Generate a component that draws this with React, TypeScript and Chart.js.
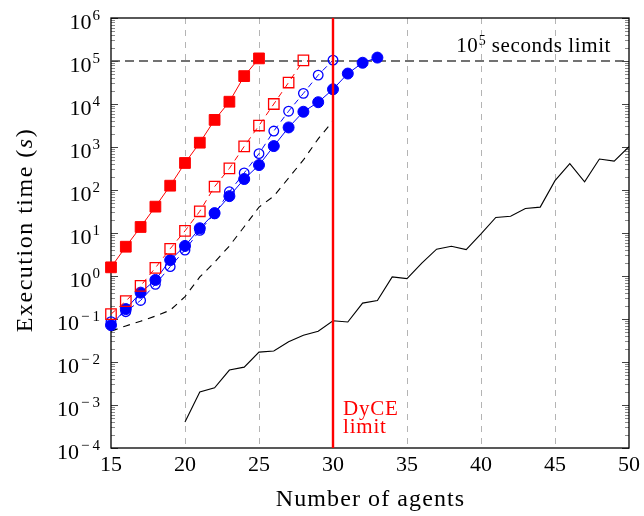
import React, { useEffect, useRef } from "react";
import { Chart, registerables } from "chart.js";

Chart.register(...registerables);

const SERIF = '"Liberation Serif", "DejaVu Serif", serif';

// Axis ticks
const xTickValues = [15, 20, 25, 30, 35, 40, 45, 50];
const yTickExponents = [-4, -3, -2, -1, 0, 1, 2, 3, 4, 5, 6];

// Red, filled squares (solid line)
const redFilledAgents = [15, 16, 17, 18, 19, 20, 21, 22, 23, 24, 25];
const redFilledTimes = [1.59, 4.8, 13.8, 41, 126, 425, 1260, 4270, 11300, 44500, 115000];

// Red, open squares (dashed line)
const redOpenAgents = [15, 16, 17, 18, 19, 20, 21, 22, 23, 24, 25, 26, 27, 28];
const redOpenTimes = [0.13, 0.26, 0.59, 1.55, 4.3, 11.2, 32, 120, 318, 1030, 3160, 10000, 31600, 103000];

// Blue, filled circles (solid line)
const blueFilledAgents = [15, 16, 17, 18, 19, 20, 21, 22, 23, 24, 25, 26, 27, 28, 29, 30, 31, 32, 33];
const blueFilledTimes = [0.072, 0.17, 0.41, 0.81, 2.35, 5.0, 12.9, 29, 72, 180, 380, 1050, 2850, 6600, 11000, 22000, 51000, 91000, 120000];

// Blue, open circles (dashed line)
const blueOpenAgents = [15, 16, 17, 18, 19, 20, 21, 22, 23, 24, 25, 26, 27, 28, 29, 30];
const blueOpenTimes = [0.087, 0.148, 0.27, 0.64, 1.65, 4.0, 11.5, 28, 91, 250, 700, 2350, 6800, 17700, 47000, 105000];

// Black dashed line
const blackDashedAgents = [15, 16, 17, 18, 19, 20, 21, 22, 23, 24, 25, 26, 27, 28, 29, 30];
const blackDashedTimes = [0.052, 0.069, 0.089, 0.117, 0.16, 0.33, 0.95, 2.1, 5, 14, 40, 72, 190, 500, 1550, 4000];

// Black solid line
const blackSolidAgents = [20, 21, 22, 23, 24, 25, 26, 27, 28, 29, 30, 31, 32, 33, 34, 35, 36, 37, 38, 39, 40, 41, 42, 43, 44, 45, 46, 47, 48, 49, 50];
const blackSolidTimes = [0.0004, 0.002, 0.0025, 0.0065, 0.0076, 0.017, 0.018, 0.0295, 0.042, 0.052, 0.091, 0.085, 0.234, 0.27, 0.95, 0.87, 2.0, 4.2, 4.9, 4.1, 9.5, 23, 24.5, 37, 40, 165, 410, 155, 525, 470, 1020];

// Limits
const timeLimit = 1e5;
const dyceLimitAgents = 30;
const timeLimitLabel = { base: "10", exp: "5", rest: " seconds limit" };
const dyceLabelLines = ["DyCE", "limit"];
const xTitle = "Number of agents";
const yTitleParts = ["Execution time (", "s", ")"];

const RED = "rgb(255,0,0)";
const BLUE = "rgb(0,0,255)";

const pts = (xs: number[], ys: number[]) => xs.map((x, i) => ({ x, y: ys[i] }));

const decorPlugin = {
  id: "decor",
  beforeDatasetsDraw(chart: any) {
    const { ctx, chartArea: a, scales } = chart;
    const y = scales.y;
    ctx.save();
    ctx.lineWidth = 1;
    ctx.strokeStyle = "#8a8a8a";
    for (let i = 0; i < yTickExponents.length - 1; i++) {
      const e = yTickExponents[i];
      for (let m = 2; m <= 9; m++) {
        const py = Math.round(y.getPixelForValue(m * Math.pow(10, e))) + 0.5;
        ctx.beginPath();
        ctx.moveTo(a.left, py);
        ctx.lineTo(a.left + 4, py);
        ctx.moveTo(a.right - 4, py);
        ctx.lineTo(a.right, py);
        ctx.stroke();
      }
    }
    ctx.strokeStyle = "#444";
    for (const e of yTickExponents) {
      const py = Math.round(y.getPixelForValue(Math.pow(10, e))) + 0.5;
      ctx.beginPath();
      ctx.moveTo(a.left, py);
      ctx.lineTo(a.left + 7, py);
      ctx.moveTo(a.right - 7, py);
      ctx.lineTo(a.right, py);
      ctx.stroke();
    }
    ctx.strokeStyle = "#000";
    ctx.lineWidth = 1.3;
    ctx.strokeRect(a.left, a.top, a.right - a.left, a.bottom - a.top);
    ctx.restore();
  },
  afterDraw(chart: any) {
    const { ctx, chartArea: a, scales } = chart;
    const y = scales.y;
    const x = scales.x;
    ctx.save();
    ctx.fillStyle = "#000";
    ctx.textBaseline = "alphabetic";
    ctx.textAlign = "left";

    // y tick labels 10^e
    const right = a.left - 11;
    for (const e of yTickExponents) {
      const py = y.getPixelForValue(Math.pow(10, e));
      const base = py + 11;
      const neg = e < 0;
      const sup = neg ? "\u2212" + String(-e) : String(e);
      (ctx as any).letterSpacing = neg ? "3px" : "0px";
      ctx.font = `15px ${SERIF}`;
      const sw = ctx.measureText(sup).width - (neg ? 3 : 0);
      ctx.fillText(sup, right - sw, base - 9);
      (ctx as any).letterSpacing = "0px";
      ctx.font = `22px ${SERIF}`;
      const mw = ctx.measureText("10").width;
      ctx.fillText("10", right - sw - mw - (neg ? 2 : 1), base);
    }

    // x title
    (ctx as any).letterSpacing = "1.1px";
    ctx.font = `24px ${SERIF}`;
    const xw = ctx.measureText(xTitle).width;
    ctx.fillText(xTitle, (a.left + a.right) / 2 - xw / 2 + 0.5, 506);

    // y title (rotated)
    (ctx as any).letterSpacing = "1.5px";
    const fonts = [`24px ${SERIF}`, `italic 24px ${SERIF}`, `24px ${SERIF}`];
    const widths = yTitleParts.map((t, i) => {
      ctx.font = fonts[i];
      return ctx.measureText(t).width;
    });
    const total = widths.reduce((s, w) => s + w, 0);
    ctx.save();
    ctx.translate(32, (a.top + a.bottom) / 2 - 3);
    ctx.rotate(-Math.PI / 2);
    let cx = -total / 2;
    yTitleParts.forEach((t, i) => {
      ctx.font = fonts[i];
      ctx.fillText(t, cx, 0);
      cx += widths[i];
    });
    ctx.restore();

    // 10^5 seconds limit
    (ctx as any).letterSpacing = "0.6px";
    ctx.font = `21px ${SERIF}`;
    const w1 = ctx.measureText(timeLimitLabel.base).width;
    const w3 = ctx.measureText(timeLimitLabel.rest).width;
    ctx.font = `14px ${SERIF}`;
    const w2 = ctx.measureText(timeLimitLabel.exp).width;
    const endX = a.right - 16;
    const baseY = y.getPixelForValue(timeLimit) - 9;
    const sx = endX - (w1 + w2 + w3) - 2;
    ctx.font = `21px ${SERIF}`;
    ctx.fillText(timeLimitLabel.base, sx, baseY);
    ctx.font = `14px ${SERIF}`;
    ctx.fillText(timeLimitLabel.exp, sx + w1 + 0.5, baseY - 7);
    ctx.font = `21px ${SERIF}`;
    ctx.fillText(timeLimitLabel.rest, sx + w1 + w2, baseY);

    // DyCE limit
    ctx.fillStyle = RED;
    (ctx as any).letterSpacing = "0.8px";
    ctx.font = `21px ${SERIF}`;
    const lx = x.getPixelForValue(dyceLimitAgents) + 10;
    ctx.fillText(dyceLabelLines[0], lx, 415);
    ctx.fillText(dyceLabelLines[1], lx, 433);
    ctx.restore();
  },
};

export default function App() {
  const ref = useRef<HTMLCanvasElement | null>(null);
  useEffect(() => {
    if (!ref.current) return;
    const chart = new Chart(ref.current, {
      type: "line",
      data: {
        datasets: [
          {
            data: [
              { x: dyceLimitAgents, y: Math.pow(10, yTickExponents[0]) },
              { x: dyceLimitAgents, y: Math.pow(10, yTickExponents[yTickExponents.length - 1]) },
            ],
            borderColor: RED,
            borderWidth: 2.4,
            pointRadius: 0,
          },
          {
            data: pts(redFilledAgents, redFilledTimes),
            borderColor: RED,
            borderWidth: 1,
            pointStyle: "rect",
            pointRadius: 7.6,
            pointBackgroundColor: RED,
            pointBorderColor: RED,
            pointBorderWidth: 1,
            clip: false,
          },
          {
            data: pts(redOpenAgents, redOpenTimes),
            borderColor: RED,
            borderWidth: 1,
            borderDash: [6, 5],
            pointStyle: "rect",
            pointRadius: 7.4,
            pointBackgroundColor: "rgba(0,0,0,0)",
            pointBorderColor: RED,
            pointBorderWidth: 1.3,
            clip: false,
          },
          {
            data: pts(blueFilledAgents, blueFilledTimes),
            borderColor: BLUE,
            borderWidth: 1,
            pointStyle: "circle",
            pointRadius: 5.5,
            pointBackgroundColor: BLUE,
            pointBorderColor: BLUE,
            pointBorderWidth: 1,
            clip: false,
          },
          {
            data: pts(blueOpenAgents, blueOpenTimes),
            borderColor: BLUE,
            borderWidth: 1,
            borderDash: [6, 5],
            pointStyle: "circle",
            pointRadius: 4.8,
            pointBackgroundColor: "rgba(0,0,0,0)",
            pointBorderColor: BLUE,
            pointBorderWidth: 1.3,
            clip: false,
          },
          {
            data: pts(blackDashedAgents, blackDashedTimes),
            borderColor: "#000",
            borderWidth: 1.1,
            borderDash: [7, 6],
            pointRadius: 0,
          },
          {
            data: pts(blackSolidAgents, blackSolidTimes),
            borderColor: "#000",
            borderWidth: 1.1,
            pointRadius: 0,
          },
          {
            data: [
              { x: xTickValues[0], y: timeLimit },
              { x: xTickValues[xTickValues.length - 1], y: timeLimit },
            ],
            borderColor: "#444",
            borderWidth: 1.4,
            borderDash: [9, 5],
            pointRadius: 0,
          },
        ],
      },
      options: {
        responsive: false,
        animation: false,
        devicePixelRatio: 1,
        events: [],
        layout: { padding: { top: 18, right: 15, left: 0, bottom: 0 } },
        elements: { line: { tension: 0 } },
        plugins: { legend: { display: false }, tooltip: { enabled: false } },
        scales: {
          x: {
            type: "linear",
            min: xTickValues[0],
            max: xTickValues[xTickValues.length - 1],
            afterBuildTicks: (scale: any) => {
              scale.ticks = xTickValues.map((v) => ({ value: v }));
            },
            afterFit: (scale: any) => {
              scale.height = 68;
            },
            ticks: {
              autoSkip: false,
              maxRotation: 0,
              padding: 4,
              color: "#000",
              font: { family: SERIF, size: 22 },
              callback: (v: any) => String(v),
            },
            grid: {
              drawTicks: false,
              lineWidth: 1,
              color: (c: any) => {
                const v = c.tick ? c.tick.value : null;
                return v === xTickValues[0] || v === xTickValues[xTickValues.length - 1]
                  ? "rgba(0,0,0,0)"
                  : "#b4b4b4";
              },
            },
            border: { display: false, dash: [6, 6] },
          },
          y: {
            type: "logarithmic",
            min: Math.pow(10, yTickExponents[0]),
            max: Math.pow(10, yTickExponents[yTickExponents.length - 1]),
            afterBuildTicks: (scale: any) => {
              scale.ticks = yTickExponents.map((e) => ({ value: Math.pow(10, e) }));
            },
            afterFit: (scale: any) => {
              scale.width = 111;
            },
            ticks: { display: false },
            grid: { display: false, drawTicks: false },
            border: { display: false },
          },
        },
      },
      plugins: [decorPlugin],
    } as any);
    return () => chart.destroy();
  }, []);
  return (
    <div style={{ position: "absolute", left: 0, top: 0, width: 644, height: 516, background: "#fff" }}>
      <canvas ref={ref} width={644} height={516} style={{ display: "block" }} />
    </div>
  );
}
